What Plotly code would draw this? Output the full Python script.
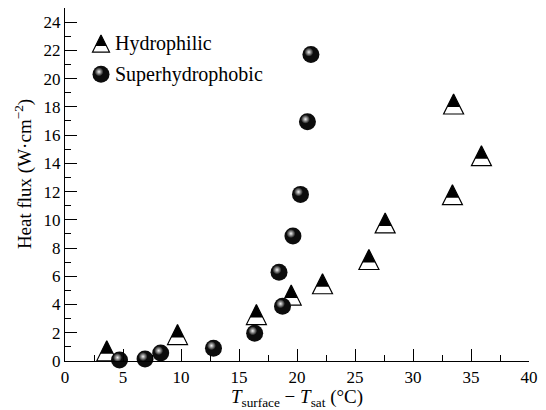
import plotly.graph_objects as go

# ---------------- data ----------------
hydro_x = [3.6, 9.7, 16.5, 19.5, 22.2, 26.2, 27.6, 33.4, 33.5, 35.9]
hydro_y = [0.72, 1.87, 3.29, 4.67, 5.47, 7.19, 9.78, 11.78, 18.2, 14.54]
super_x = [4.7, 6.9, 8.25, 12.8, 16.35, 18.75, 18.45, 19.65, 20.3, 20.9, 21.2]
super_y = [0.07, 0.14, 0.56, 0.91, 1.96, 3.88, 6.28, 8.85, 11.8, 16.95, 21.7]
series_names = ["Hydrophilic", "Superhydrophobic"]
x_ticks = [0, 5, 10, 15, 20, 25, 30, 35, 40]
y_ticks = [0, 2, 4, 6, 8, 10, 12, 14, 16, 18, 20, 22, 24]
x_title = "<i>T</i><sub>surface</sub> − <i>T</i><sub>sat</sub> (°C)"
y_title = "Heat flux (W·cm<sup>−2</sup>)"

# ---------------- layout constants ----------------
W, H = 546, 410
ML, MR, MT, MB = 65, 17, 8, 45
PW, PH = W - ML - MR, H - MT - MB
X_RANGE = [0, 40]
Y_RANGE = [0, 25]
FONT = "Liberation Serif, Times New Roman, Times, serif"

TRI_SIZE = 20          # outer triangle (white, outlined)
TRI_TOP = 13           # black upper part
SPH_SIZE = 17
HL_SIZE = 9
HL_DX, HL_DY = -2.0, 2.5   # highlight offset in px (left, up)

# legend placement (paper fractions of plot area)
LEG_X = (101 - ML) / PW
LEG_Y = [(MT + PH - 44) / PH, (MT + PH - 75) / PH]
LEG_TX = (113 - ML) / PW
LEG_TRI = 17
LEG_SPH = 17

# y-title placement (pixel centre -> paper)
YT_X = (23 - ML) / PW
YT_Y = (MT + PH - 176) / PH


def shifted(rng, px, span_px):
    d = (rng[1] - rng[0]) * px / span_px
    return [rng[0] - d, rng[1] - d]


fig = go.Figure()

# hydrophilic triangles: white outline + black top part (shared apex)
fig.add_trace(go.Scatter(
    x=hydro_x, y=hydro_y, mode="markers", cliponaxis=False, showlegend=False,
    marker=dict(symbol="arrow-down", angle=180, standoff=TRI_SIZE / 2, size=TRI_SIZE,
                color="white", line=dict(color="black", width=1.2))))
fig.add_trace(go.Scatter(
    x=hydro_x, y=hydro_y, mode="markers", cliponaxis=False, showlegend=False,
    marker=dict(symbol="arrow-down", angle=180, standoff=TRI_SIZE / 2, size=TRI_TOP,
                color="black", line=dict(width=0))))

# superhydrophobic spheres
fig.add_trace(go.Scatter(
    x=super_x, y=super_y, mode="markers", cliponaxis=False, showlegend=False,
    marker=dict(symbol="circle", size=SPH_SIZE, color="#0c0c0c", line=dict(width=0))))
fig.add_trace(go.Scatter(
    x=super_x, y=super_y, mode="markers", cliponaxis=False, showlegend=False,
    xaxis="x2", yaxis="y2",
    marker=dict(symbol="circle", size=HL_SIZE, color="#0c0c0c", line=dict(width=0),
                gradient=dict(type="radial", color="#f2f2f2"))))

# legend symbols (on an auxiliary 0..1 axis pair)
fig.add_trace(go.Scatter(
    x=[LEG_X], y=[LEG_Y[0]], mode="markers", cliponaxis=False, showlegend=False,
    xaxis="x3", yaxis="y3",
    marker=dict(symbol="arrow-down", angle=180, standoff=LEG_TRI / 2, size=LEG_TRI,
                color="white", line=dict(color="black", width=1.2))))
fig.add_trace(go.Scatter(
    x=[LEG_X], y=[LEG_Y[0]], mode="markers", cliponaxis=False, showlegend=False,
    xaxis="x3", yaxis="y3",
    marker=dict(symbol="arrow-down", angle=180, standoff=LEG_TRI / 2, size=round(LEG_TRI * 0.65),
                color="black", line=dict(width=0))))
fig.add_trace(go.Scatter(
    x=[LEG_X], y=[LEG_Y[1]], mode="markers", cliponaxis=False, showlegend=False,
    xaxis="x3", yaxis="y3",
    marker=dict(symbol="circle", size=LEG_SPH, color="#0c0c0c", line=dict(width=0))))
fig.add_trace(go.Scatter(
    x=[LEG_X + HL_DX / PW], y=[LEG_Y[1] + HL_DY / PH], mode="markers", cliponaxis=False,
    showlegend=False, xaxis="x3", yaxis="y3",
    marker=dict(symbol="circle", size=HL_SIZE, color="#0c0c0c", line=dict(width=0),
                gradient=dict(type="radial", color="#f2f2f2"))))

for name, yy in zip(series_names, LEG_Y):
    fig.add_annotation(x=LEG_TX, y=yy, xref="paper", yref="paper", text=name,
                       showarrow=False, xanchor="left", yanchor="middle",
                       font=dict(family=FONT, size=20, color="black"))

# y-axis title as a rotated annotation
fig.add_annotation(x=YT_X, y=YT_Y, xref="paper", yref="paper", text=y_title,
                   showarrow=False, textangle=-90, xanchor="center", yanchor="middle",
                   font=dict(family=FONT, size=19, color="black"))

axis_common = dict(
    showline=True, linecolor="black", linewidth=1.3, mirror=False,
    showgrid=False, zeroline=False, ticks="inside", ticklen=12, tickwidth=1.3,
    tickcolor="black", tickfont=dict(family=FONT, size=17, color="black"),
)

fig.update_layout(
    width=W, height=H,
    margin=dict(l=ML, r=MR, t=MT, b=MB),
    paper_bgcolor="white", plot_bgcolor="white",
    font=dict(family=FONT, color="black", size=17),
    showlegend=False,
    xaxis=dict(range=X_RANGE, tickvals=x_ticks, ticktext=[str(v) for v in x_ticks],
               minor=dict(ticks="inside", ticklen=6, tickwidth=1.3, tickcolor="black",
                          tick0=0, dtick=2.5),
               title=dict(text=x_title,
                          font=dict(family=FONT, size=19, color="black"), standoff=2),
               **axis_common),
    yaxis=dict(range=Y_RANGE, tickvals=y_ticks, ticktext=[str(v) for v in y_ticks],
               minor=dict(ticks="inside", ticklen=6, tickwidth=1.3, tickcolor="black",
                          tick0=0, dtick=1),
               **axis_common),
    xaxis2=dict(overlaying="x", range=shifted(X_RANGE, HL_DX, PW), visible=False),
    yaxis2=dict(overlaying="y", range=shifted(Y_RANGE, HL_DY, PH), visible=False),
    xaxis3=dict(overlaying="x", range=[0, 1], visible=False),
    yaxis3=dict(overlaying="y", range=[0, 1], visible=False),
)

fig.write_html("out.html")
